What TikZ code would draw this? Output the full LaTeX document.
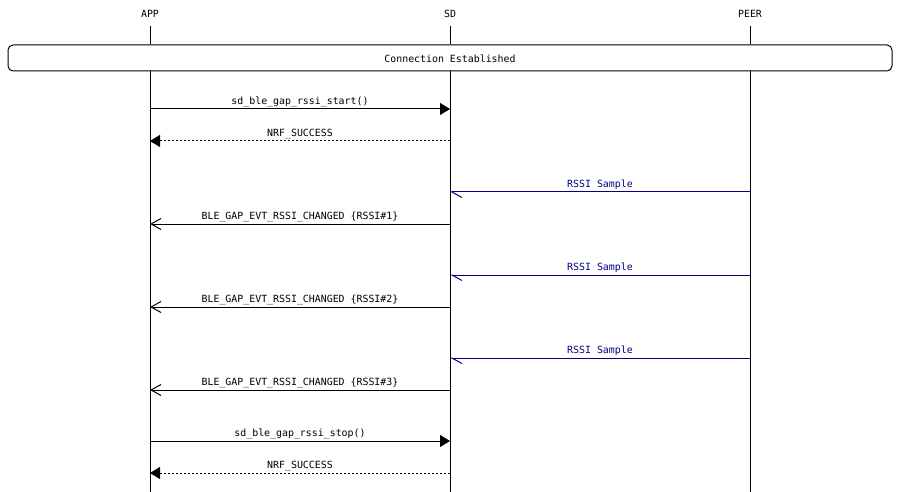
\documentclass[tikz,border=0pt]{standalone}
\usepackage{fontspec}
\setmonofont{DejaVu Sans Mono}
\usetikzlibrary{arrows.meta}
\definecolor{rssiblue}{RGB}{0,0,140}
\begin{document}
\begin{tikzpicture}[x=1pt,y=-1pt,
  lbl/.style={font=\ttfamily\fontsize{9.9}{10}\selectfont, inner sep=0pt, anchor=base},
  life/.style={draw=black, line width=1pt},
  call/.style={line width=1pt, -{Triangle[length=10pt,width=12pt]}},
  reply/.style={line width=1pt, dash pattern=on 2pt off 2pt, -{Triangle[length=10pt,width=12pt]}},
  evt/.style={line width=1pt, -{Straight Barb[length=10pt,width=11pt,line width=1pt]}},
  peer/.style={line width=1pt, draw=rssiblue, -{Straight Barb[left,length=10pt,width=11pt,line width=1pt]}}]
\useasboundingbox (0,0) rectangle (900,492);
% headers
\node[lbl] (app) at (150,18) {APP};
\node[lbl] (sd) at (450,18) {SD};
\node[lbl] (peer) at (750,18) {PEER};
\coordinate (appt) at (150,26); \coordinate (sdt) at (450,26); \coordinate (peert) at (750,26);
\coordinate (appb) at (150,492); \coordinate (sdb) at (450,492); \coordinate (peerb) at (750,492);
% box
\node[draw, line width=1pt, rounded corners=5pt, minimum width=884pt, minimum height=26pt, inner sep=0pt] (conn) at (450,58) {};
\node[lbl] (conntxt) at (450,63) {Connection Established};
% lifelines
\foreach \a/\b in {appt/appb, sdt/sdb, peert/peerb} {
  \draw[life] (\a) -- (conn.north -| \a);
  \draw[life] (conn.south -| \a) -- (\b);
}
% messages
\coordinate (a1) at (150,109); \coordinate (s1) at (450,109);
\draw[call] (a1) -- (s1) node[lbl, midway, above=2pt] {sd\_ble\_gap\_rssi\_start()};
\coordinate (a2) at (150,141); \coordinate (s2) at (450,141);
\draw[reply] (s2) -- (a2) node[lbl, midway, above=2pt] {NRF\_SUCCESS};

\foreach \y/\n in {192/1, 275/2, 358/3} {
  \coordinate (p\n) at (750,\y); \coordinate (q\n) at (450,\y);
  \draw[peer] (p\n) -- (q\n) node[lbl, midway, above=2pt, text=rssiblue] {RSSI Sample};
}
\foreach \y/\n in {224/1, 307/2, 390/3} {
  \coordinate (e\n) at (450,\y); \coordinate (f\n) at (150,\y);
  \draw[evt] (e\n) -- (f\n) node[lbl, midway, above=2pt] {BLE\_GAP\_EVT\_RSSI\_CHANGED \{RSSI\#\n\}};
}
\coordinate (a3) at (150,441); \coordinate (s3) at (450,441);
\draw[call] (a3) -- (s3) node[lbl, midway, above=2pt] {sd\_ble\_gap\_rssi\_stop()};
\coordinate (a4) at (150,473); \coordinate (s4) at (450,473);
\draw[reply] (s4) -- (a4) node[lbl, midway, above=2pt] {NRF\_SUCCESS};
\end{tikzpicture}
\end{document}
